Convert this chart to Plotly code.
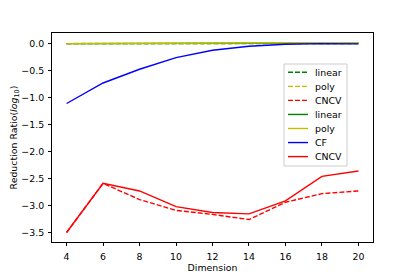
import plotly.graph_objects as go

dims = [4, 6, 8, 10, 12, 14, 16, 18, 20]
linear_dash = [0.0, 0.0, 0.0, 0.0, 0.0, 0.0, 0.0, 0.0, 0.0]
poly_dash = [0.0, 0.0, 0.0, 0.0, 0.0, 0.0, 0.005, 0.005, 0.005]
cncv_dash = [-3.5, -2.59, -2.89, -3.09, -3.165, -3.26, -2.94, -2.78, -2.73]
linear_solid = [0.0, 0.0, 0.0, 0.0, 0.0, 0.0, 0.005, 0.01, 0.01]
poly_solid = [0.0, 0.0, 0.0, 0.0, 0.005, 0.01, 0.015, 0.015, 0.015]
cf_solid = [-1.11, -0.73, -0.476, -0.26, -0.124, -0.05, -0.013, 0.0, -0.005]
cncv_solid = [-3.5, -2.59, -2.73, -3.02, -3.13, -3.155, -2.915, -2.46, -2.36]

y_ticks = [0.0, -0.5, -1.0, -1.5, -2.0, -2.5, -3.0, -3.5]

GREEN = "#008000"
YELLOW = "#bfbf00"
BLUE = "#0000ff"
RED = "#ff0000"
LW = 1.4
DASH = "5px,2px"
FS = 9.4
FONT = "DejaVu Sans"

series = [
    ("linear", linear_dash, GREEN, "dash"),
    ("poly", poly_dash, YELLOW, "dash"),
    ("CNCV", cncv_dash, RED, "dash"),
    ("linear", linear_solid, GREEN, "solid"),
    ("poly", poly_solid, YELLOW, "solid"),
    ("CF", cf_solid, BLUE, "solid"),
    ("CNCV", cncv_solid, RED, "solid"),
]

PAGE_W, PAGE_H = 415, 277
OFF = 8  # default body margin of the page
L, R, T, B = 52, 373, 33, 242  # plot area in page pixels


def px_x(p):
    return (p - L) / (R - L)


def px_y(p):
    return (B - p) / (B - T)


fig = go.Figure()
for name, vals, color, dash in series:
    fig.add_trace(go.Scatter(
        x=dims, y=vals, mode="lines", name=name, showlegend=False,
        line=dict(color=color, width=LW, dash=DASH if dash == "dash" else "solid"),
    ))

# legend drawn in matplotlib style (compact box)
box_l, box_r, box_t, box_b = 284, 347, 64, 166
fig.add_shape(type="rect", xref="paper", yref="paper",
              x0=px_x(box_l), x1=px_x(box_r), y0=px_y(box_b), y1=px_y(box_t),
              line=dict(color="#cccccc", width=1), fillcolor="rgba(255,255,255,0.8)")
for i, (name, vals, color, dash) in enumerate(series):
    yc = 72.3 + 14.05 * i
    fig.add_shape(type="line", xref="paper", yref="paper",
                  x0=px_x(288), x1=px_x(308), y0=px_y(yc), y1=px_y(yc),
                  line=dict(color=color, width=LW, dash=DASH if dash == "dash" else "solid"))
    fig.add_annotation(xref="paper", yref="paper", x=px_x(313), y=px_y(yc),
                       text=name, showarrow=False, xanchor="left", yanchor="middle",
                       font=dict(family=FONT, size=FS, color="black"))

axis_common = dict(
    showline=True, linecolor="black", linewidth=1, mirror=True,
    ticks="outside", ticklen=3, tickwidth=1, tickcolor="black",
    showgrid=False, zeroline=False, automargin=False,
    tickfont=dict(family=FONT, size=FS, color="black"),
)

fig.update_layout(
    width=PAGE_W - OFF, height=PAGE_H - OFF,
    margin=dict(l=L - OFF, r=PAGE_W - R, t=T - OFF, b=PAGE_H - B),
    paper_bgcolor="white", plot_bgcolor="white",
    font=dict(family=FONT, size=FS, color="black"),
    showlegend=False,
    xaxis=dict(
        range=[3.2, 20.8], tickvals=dims, ticklabelstandoff=3,
        title=dict(text="Dimension", font=dict(family=FONT, size=FS), standoff=1),
        **axis_common,
    ),
    yaxis=dict(
        range=[-3.676, 0.196], tickvals=y_ticks, tickformat=".1f", ticklabelstandoff=2,
        title=dict(text="Reduction Ratio(<i>log</i><sub>10</sub>)", font=dict(family=FONT, size=FS), standoff=5),
        **axis_common,
    ),
)

fig.write_html("out.html")
